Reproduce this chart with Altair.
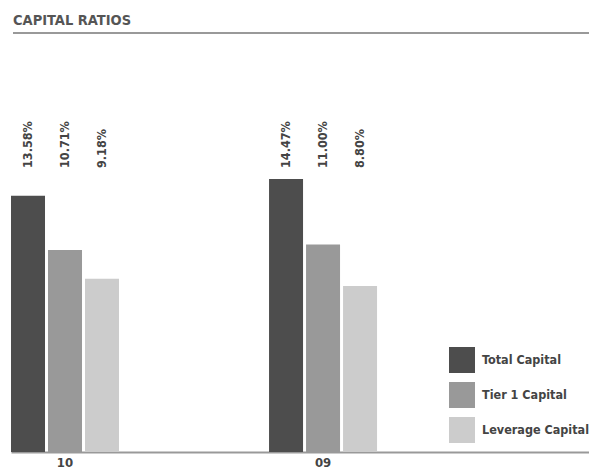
import altair as alt
import pandas as pd

years = ["10", "09"]
series = ["Total Capital", "Tier 1 Capital", "Leverage Capital"]
ratios_10 = [13.58, 10.71, 9.18]
ratios_09 = [14.47, 11.00, 8.80]
colors = ["#4d4d4d", "#999999", "#cccccc"]
chart_title = "CAPITAL RATIOS"

rows = []
for year, vals in zip(years, [ratios_10, ratios_09]):
    for s, v in zip(series, vals):
        rows.append({"year": year, "series": s, "ratio": v, "label": f"{v:.2f}%"})
df = pd.DataFrame(rows)

FONT = "DejaVu Sans Condensed, sans-serif"
TEXT = "#444444"

x_enc = alt.X(
    "year:N",
    sort=years,
    scale=alt.Scale(paddingInner=0.5814, paddingOuter=0.4107, align=0),
    axis=alt.Axis(
        title=None,
        ticks=False,
        domainColor="#999999",
        domainWidth=2,
        labelAngle=0,
        labelFont=FONT,
        labelFontWeight="bold",
        labelFontSize=13,
        labelColor=TEXT,
        labelPadding=4,
    ),
)
xoff_enc = alt.XOffset(
    "series:N", sort=series, scale=alt.Scale(paddingInner=0.081, paddingOuter=0)
)

base = alt.Chart(df)

bars = base.mark_bar().encode(
    x=x_enc,
    xOffset=xoff_enc,
    y=alt.Y("ratio:Q", scale=alt.Scale(domain=[0, 22], nice=False), axis=None),
    color=alt.Color(
        "series:N",
        sort=series,
        scale=alt.Scale(domain=series, range=colors),
        legend=alt.Legend(
            title=None,
            orient="none",
            legendX=438,
            legendY=310,
            symbolType="square",
            symbolSize=676,
            symbolStrokeWidth=0,
            symbolOpacity=1,
            rowPadding=9,
            labelOffset=7,
            labelFont=FONT,
            labelFontWeight="bold",
            labelFontSize=12.5,
            labelColor=TEXT,
        ),
    ),
)

labels = base.mark_text(
    angle=270,
    align="left",
    baseline="middle",
    font=FONT,
    fontWeight="bold",
    fontSize=12.5,
    color=TEXT,
).encode(
    x=x_enc,
    xOffset=xoff_enc,
    y=alt.value(131),
    text="label:N",
)

# Heading text and the rule beneath it
title_df = pd.DataFrame({"title": [chart_title]})
heading = alt.Chart(title_df).mark_text(
    align="left",
    baseline="alphabetic",
    font=FONT,
    fontWeight="bold",
    fontSize=14.5,
    color="#555555",
).encode(x=alt.value(2), y=alt.value(-12), text="title:N")

title_rule = alt.Chart(title_df).mark_rule(color="#999999", strokeWidth=2).encode(
    x=alt.value(2), x2=alt.value(578), y=alt.value(-4)
)

chart = (
    alt.layer(bars, labels, heading, title_rule)
    .properties(
        width=578,
        height=415,
        padding={"left": 11, "top": 37, "right": 0, "bottom": 18},
        autosize=alt.AutoSizeParams(type="none"),
        background="white",
    )
    .configure_view(strokeWidth=0, stroke=None)
)

chart.save("out.html", embed_options={"renderer": "svg", "actions": False})
